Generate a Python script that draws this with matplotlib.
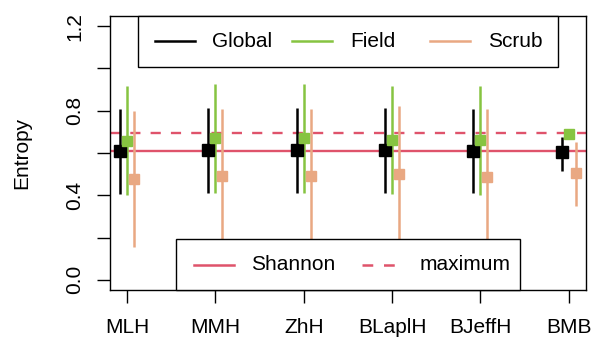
import matplotlib.pyplot as plt
from matplotlib.patches import Rectangle
from matplotlib.lines import Line2D

plt.rcParams['font.family'] = ['Liberation Sans', 'DejaVu Sans']

methods = ['MLH', 'MMH', 'ZhH', 'BLaplH', 'BJeffH', 'BMB']
groups = ['Global', 'Field', 'Scrub']
colors = ['black', '#86C441', '#E9A882']

# point estimate, lower, upper
glob_est = [0.610, 0.613, 0.613, 0.613, 0.610, 0.605]
glob_lo = [0.404, 0.412, 0.412, 0.409, 0.409, 0.514]
glob_hi = [0.810, 0.815, 0.815, 0.813, 0.810, 0.676]
field_est = [0.657, 0.669, 0.669, 0.661, 0.661, 0.690]
field_lo = [0.401, 0.409, 0.409, 0.404, 0.401, 0.690]
field_hi = [0.917, 0.925, 0.925, 0.917, 0.917, 0.690]
scrub_est = [0.477, 0.491, 0.492, 0.502, 0.488, 0.506]
scrub_lo = [0.154, 0.168, 0.168, 0.178, 0.168, 0.351]
scrub_hi = [0.798, 0.810, 0.810, 0.820, 0.810, 0.653]

shannon = 0.609
maximum = 0.693

FS = 15

fig = plt.figure(figsize=(5.92, 3.39), dpi=100)
ax = fig.add_axes([0.1858, 0.1445, 0.8041, 0.8083])

red = '#DF536B'
ax.axhline(shannon, color=red, lw=1.7, zorder=1)
ax.axhline(maximum, color=red, lw=1.7, ls=(0, (4.3, 4.3)), zorder=1)

offsets = [-0.08, 0.0, 0.08]
series = [(glob_est, glob_lo, glob_hi), (field_est, field_lo, field_hi),
          (scrub_est, scrub_lo, scrub_hi)]
for (est, lo, hi), off, c in zip(series, offsets, colors):
    xs = [i + 1 + off for i in range(len(methods))]
    ax.vlines(xs, lo, hi, color=c, lw=1.8, zorder=2)
    ms = 8 if c == 'black' else 7.2
    ax.plot(xs, est, 's', color=c, ms=ms, zorder=3, ls='none')

ax.set_xlim(0.807, 6.196)
ax.set_ylim(-0.048, 1.248)
ax.set_xticks(range(1, 7))
ax.set_xticklabels(methods, fontsize=FS)
ax.set_yticks([0, 0.2, 0.4, 0.6, 0.8, 1.0, 1.2])
ax.set_yticklabels(['0.0', '', '0.4', '', '0.8', '', '1.2'], fontsize=FS,
                   rotation=90, va='center')
ax.tick_params(length=9.5, width=1, direction='out')
ax.tick_params(axis='x', pad=11)
ax.tick_params(axis='y', pad=9)
for s in ax.spines.values():
    s.set_linewidth(1)

W = 476.0
H = 274.0
px = lambda x: (x - 110) / W
py = lambda y: (290 - y) / H

ax.text(px(22), 0.5, 'Entropy', rotation=90, fontsize=FS, ha='center',
        va='center', transform=ax.transAxes)


def draw_legend(x0, x1, y0, y1, entries):
    # R style legend box, coordinates in axes fraction
    ax.add_patch(Rectangle((x0, y0), x1 - x0, y1 - y0, transform=ax.transAxes,
                           fill=True, facecolor='white', edgecolor='black',
                           lw=1, zorder=5, clip_on=False))
    yc = (y0 + y1) / 2
    for hx0, hx1, tx, label, c, ls in entries:
        ax.add_line(Line2D([hx0, hx1], [yc, yc], color=c, lw=1.8, ls=ls,
                           transform=ax.transAxes, zorder=6))
        ax.text(tx, yc, label, transform=ax.transAxes, fontsize=FS,
                va='center', ha='left', zorder=6)


draw_legend(px(137.7), px(558.3), py(66.7), py(16), [
    (px(155), px(195), px(212), groups[0], colors[0], '-'),
    (px(292), px(332), px(350), groups[1], colors[1], '-'),
    (px(430), px(470), px(488), groups[2], colors[2], '-'),
])
draw_legend(px(176), px(520), py(290), py(239.3), [
    (px(194), px(234), px(251), 'Shannon', red, '-'),
    (px(362), px(402), px(420), 'maximum', red, (0, (4.3, 4.3))),
])

fig.savefig('out.png', dpi=100)
